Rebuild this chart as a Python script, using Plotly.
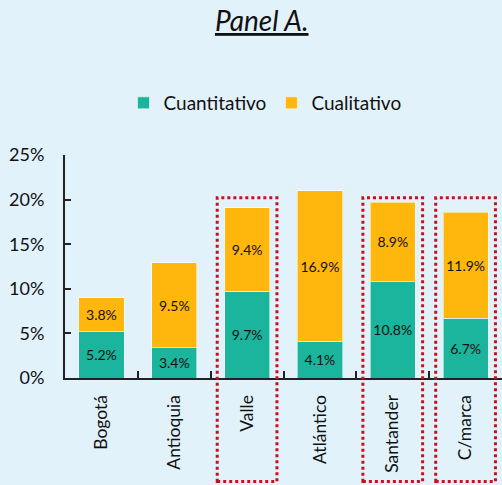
import plotly.graph_objects as go

departamentos = ["Bogotá", "Antioquia", "Valle", "Atlántico", "Santander", "C/marca"]
cuantitativo = [5.2, 3.4, 9.7, 4.1, 10.8, 6.7]
cualitativo = [3.8, 9.5, 9.4, 16.9, 8.9, 11.9]
resaltados = ["Valle", "Santander", "C/marca"]

TEAL = "#1bb49c"
ORANGE = "#ffb60d"
BG = "#e2f2fb"
FONT = "Lato"

fig = go.Figure()
for name, vals, color in [("Cuantitativo", cuantitativo, TEAL), ("Cualitativo", cualitativo, ORANGE)]:
    fig.add_trace(
        go.Bar(
            x=departamentos,
            y=vals,
            name=name,
            marker={"color": color, "line": {"color": "rgba(255,255,255,0.55)", "width": 1}},
            width=0.62,
            text=[f"{v:.1f}%" for v in vals],
            textposition="inside",
            insidetextanchor="middle",
            textangle=0,
            textfont={"family": FONT, "size": 14, "color": "#111111"},
            hoverinfo="skip",
        )
    )

# dotted red frames around the highlighted departments
n = len(departamentos)
y_max = 25
for dep in resaltados:
    i = departamentos.index(dep)
    fig.add_shape(
        type="rect",
        xref="x domain",
        yref="y domain",
        x0=(i + 0.5 - 0.41) / n,
        x1=(i + 0.5 + 0.41) / n,
        y0=-11.6 / y_max,
        y1=20.2 / y_max,
        line={"color": "#c8101e", "width": 3, "dash": "dot"},
        fillcolor="rgba(0,0,0,0)",
        layer="above",
    )

fig.add_annotation(
    text="<i><u>Panel A.</u></i>",
    xref="paper",
    yref="paper",
    x=(262 - 65) / 437,
    y=(378 - 20) / 223,
    xanchor="center",
    yanchor="middle",
    showarrow=False,
    font={"family": FONT, "size": 28, "color": "#111111"},
)

fig.update_layout(
    barmode="stack",
    width=502,
    height=485,
    margin={"l": 65, "r": 0, "t": 155, "b": 107},
    paper_bgcolor=BG,
    plot_bgcolor=BG,
    font={"family": FONT, "size": 17, "color": "#111111"},
    showlegend=True,
    legend={
        "orientation": "h",
        "traceorder": "normal",
        "x": (265 - 65) / 437,
        "xanchor": "center",
        "y": (378 - 103) / 223,
        "yanchor": "middle",
        "font": {"family": FONT, "size": 19, "color": "#111111"},
        "bgcolor": "rgba(0,0,0,0)",
        "itemclick": False,
    },
    bargap=0.38,
)
fig.update_yaxes(
    range=[0, y_max],
    dtick=5,
    ticksuffix="%",
    showgrid=False,
    zeroline=False,
    showline=True,
    linecolor="#222222",
    linewidth=2,
    ticks="inside",
    ticklen=6,
    tickwidth=2,
    tickcolor="#222222",
    ticklabelstandoff=15,
    tickfont={"family": FONT, "size": 18, "color": "#111111"},
)
fig.update_xaxes(
    range=[-0.5, n - 0.5],
    showgrid=False,
    showline=True,
    linecolor="#222222",
    linewidth=2,
    ticks="inside",
    tickson="boundaries",
    ticklen=7,
    tickwidth=2,
    tickcolor="#222222",
    tickangle=-90,
    ticklabelstandoff=8,
    tickfont={"family": FONT, "size": 17.5, "color": "#111111"},
)

fig.write_html(
    "out.html",
    config={"displayModeBar": False},
    post_script="document.body.style.margin='0';",
)
